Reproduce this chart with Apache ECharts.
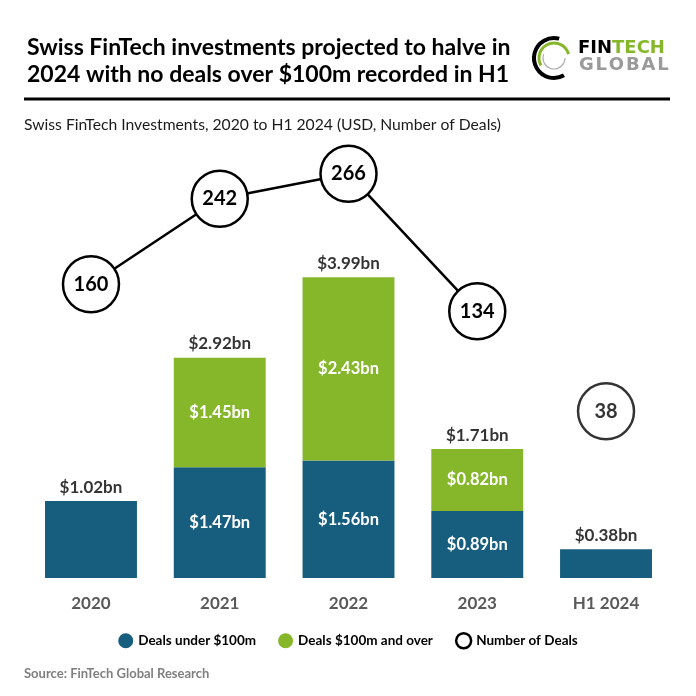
<!DOCTYPE html>
<html><head><meta charset="utf-8">
<script src="https://cdn.jsdelivr.net/npm/echarts@6/dist/echarts.min.js"></script>
<style>html,body{margin:0;padding:0;background:#fff}#c{width:696px;height:696px}</style>
</head><body><div id="c"></div>
<script>
var categories = ['2020', '2021', '2022', '2023', 'H1 2024'];
var dealsUnder100m = [1.02, 1.47, 1.56, 0.89, 0.38];
var dealsOver100m = [null, 1.45, 2.43, 0.82, null];
var totals = [1.02, 2.92, 3.99, 1.71, 0.38];
var numberOfDeals = [160, 242, 266, 134, 38];

var FONT = 'Lato';
var BLUE = '#175e7e';
var GREEN = '#86b72b';

// line only connects 2020-2023; H1 2024 shown as standalone circle
var lineData = numberOfDeals.map(function (v, i) { return i < 4 ? v : null; });
var soloData = numberOfDeals.map(function (v, i) { return i === 4 ? v : null; });

var chart = echarts.init(document.getElementById('c'), null, { renderer: 'canvas' });
var circleStyle = { color: '#fff', borderColor: '#000', borderWidth: 2.5 };
var circleLabel = { show: true, position: 'inside', color: '#000', fontFamily: FONT, fontWeight: 'bold', fontSize: 20 };

chart.setOption({
  backgroundColor: '#fff',
  animation: false,
  title: {
    text: 'Swiss FinTech investments projected to halve in\n2024 with no deals over $100m recorded in H1',
    left: 22, top: 29,
    textStyle: { fontFamily: FONT, fontWeight: 'bold', fontSize: 23, color: '#000', lineHeight: 27 }
  },
  graphic: [
    { type: 'line', shape: { x1: 24, y1: 99, x2: 670, y2: 99 }, style: { stroke: '#000', lineWidth: 3 } },
    { type: 'text', left: 24, top: 117, style: { text: 'Swiss FinTech Investments, 2020 to H1 2024 (USD, Number of Deals)', fontFamily: FONT, fontSize: 15.7, fill: '#1a1a1a' } },
    { type: 'text', left: 24, top: 667, style: { text: 'Source: FinTech Global Research', fontFamily: FONT, fontWeight: 'bold', fontSize: 13, fill: '#7f7f7f' } },
    // logo
    { type: 'arc', shape: { cx: 554, cy: 58, r: 20, startAngle: Math.PI * 60 / 180, endAngle: Math.PI * 285 / 180, clockwise: true }, style: { stroke: '#000', lineWidth: 4, fill: null } },
    { type: 'arc', shape: { cx: 554, cy: 58, r: 15, startAngle: Math.PI * 150 / 180, endAngle: Math.PI * 345 / 180, clockwise: true }, style: { stroke: '#86b72b', lineWidth: 3, fill: null } },
    { type: 'arc', shape: { cx: 554, cy: 58, r: 11, startAngle: Math.PI * 0 / 180, endAngle: Math.PI * 200 / 180, clockwise: true }, style: { stroke: '#b0b0b0', lineWidth: 1.2, fill: null } },
    { type: 'text', left: 578, top: 39, style: { text: '{a|FIN}{b|TECH}', rich: { a: { fontFamily: 'DejaVu Sans', fontWeight: 'bold', fontSize: 18, fill: '#000' }, b: { fontFamily: 'DejaVu Sans', fontWeight: 'bold', fontSize: 18, fill: '#86b72b' } } } },
    { type: 'text', left: 579, top: 56, style: { text: 'G L O B A L'.replace(/ /g, '\u200a'), fontFamily: 'DejaVu Sans', fontWeight: 'bold', fontSize: 18, fill: '#9a9a9a' } }
  ],
  legend: {
    top: 627, left: 'center',
    itemWidth: 15, itemHeight: 15, itemGap: 22,
    textStyle: { fontFamily: FONT, fontWeight: 'bold', fontSize: 13.5, color: '#000' },
    data: [
      { name: 'Deals under $100m', icon: 'circle' },
      { name: 'Deals $100m and over', icon: 'circle' },
      { name: 'Number of Deals', icon: 'circle', itemStyle: { color: '#fff', borderColor: '#000', borderWidth: 2.5 } }
    ]
  },
  grid: { left: 26.6, right: 25.6, top: 100, bottom: 118 },
  xAxis: {
    type: 'category', data: categories,
    axisLine: { show: false }, axisTick: { show: false },
    axisLabel: { margin: 17, fontFamily: FONT, fontWeight: 'bold', fontSize: 17, color: '#595959' }
  },
  yAxis: [
    { type: 'value', min: 0, max: 6.34, show: false, splitLine: { show: false } },
    { type: 'value', min: -121.9, max: 336.8, show: false, splitLine: { show: false } }
  ],
  series: [
    {
      name: 'Deals under $100m', type: 'bar', stack: 'inv', data: dealsUnder100m, barWidth: '71.4%',
      itemStyle: { color: BLUE },
      label: {
        show: true, position: 'inside', color: '#fff', fontFamily: FONT, fontWeight: 'bold', fontSize: 16.5,
        formatter: function (p) { return dealsOver100m[p.dataIndex] ? '$' + p.value.toFixed(2) + 'bn' : ''; }
      }
    },
    {
      name: 'Deals $100m and over', type: 'bar', stack: 'inv', data: dealsOver100m, barWidth: '71.4%',
      itemStyle: { color: GREEN },
      label: {
        show: true, position: 'inside', color: '#fff', fontFamily: FONT, fontWeight: 'bold', fontSize: 16.5,
        formatter: function (p) { return p.value ? '$' + p.value.toFixed(2) + 'bn' : ''; }
      }
    },
    {
      name: 'Total', type: 'scatter', data: totals, symbolSize: 1,
      itemStyle: { color: 'rgba(0,0,0,0)' }, silent: true,
      label: {
        show: true, position: 'top', distance: 5, color: '#000', fontFamily: FONT, fontWeight: 'bold', fontSize: 17,
        formatter: function (p) { return '$' + p.value.toFixed(2) + 'bn'; }
      }
    },
    {
      name: 'Number of Deals', type: 'line', yAxisIndex: 1, data: lineData, connectNulls: false,
      symbol: 'circle', symbolSize: 56, itemStyle: circleStyle,
      lineStyle: { color: '#000', width: 2.5 }, label: circleLabel, z: 5
    },
    {
      name: 'Number of Deals', type: 'scatter', yAxisIndex: 1, data: soloData,
      symbol: 'circle', symbolSize: 56, itemStyle: circleStyle, label: circleLabel, z: 5
    }
  ]
});
</script></body></html>
